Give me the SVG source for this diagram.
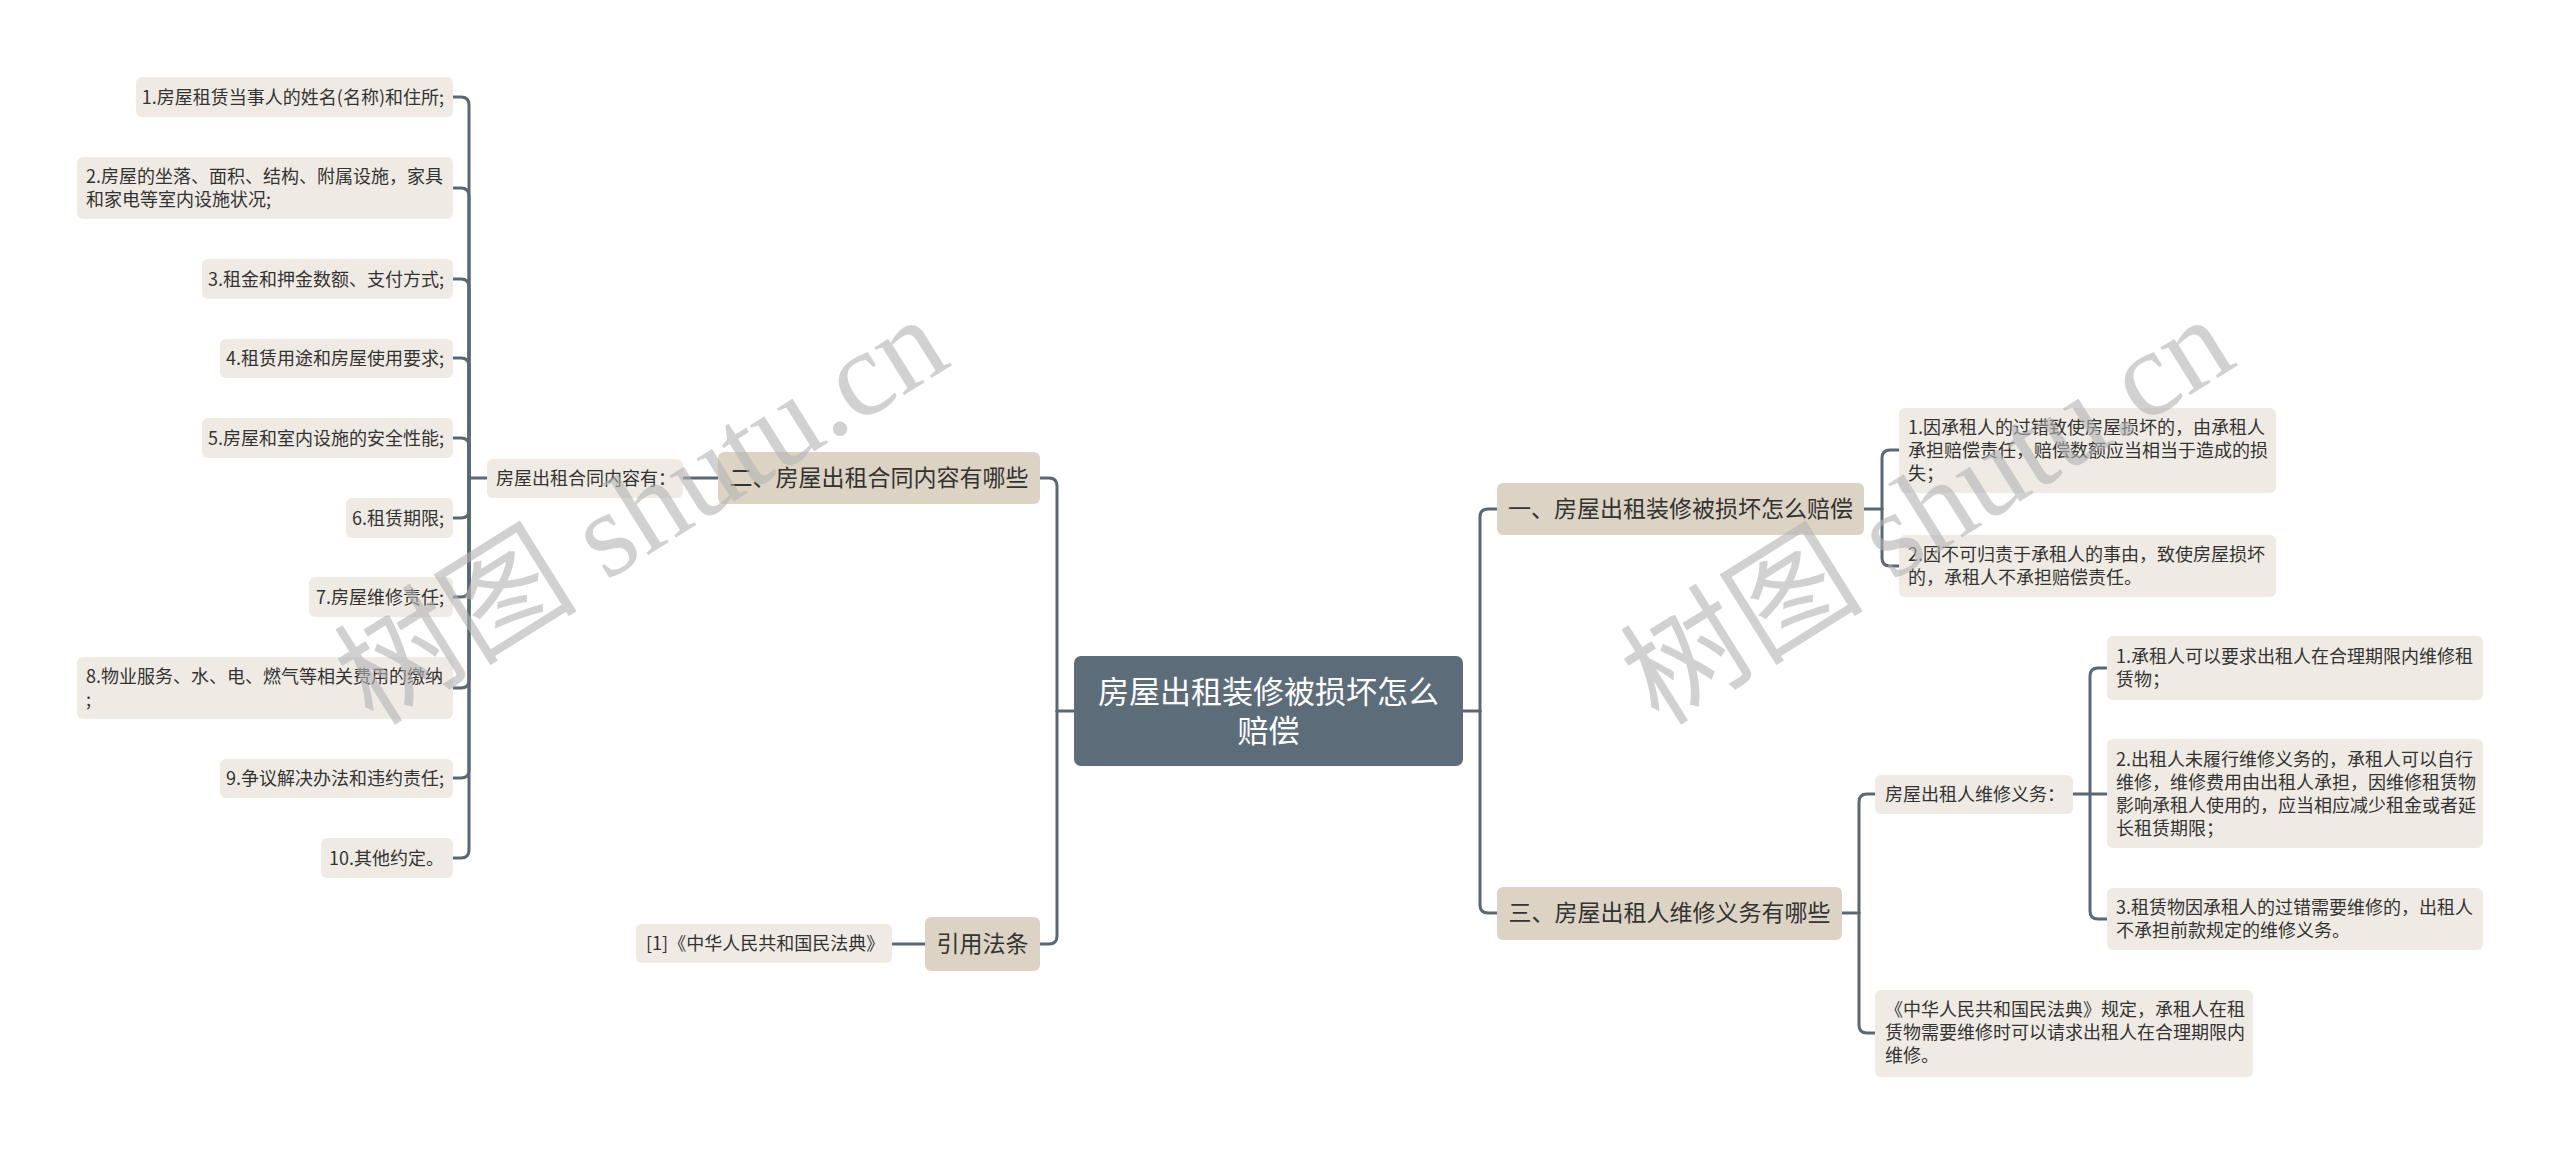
<svg xmlns="http://www.w3.org/2000/svg" width="2560" height="1154" viewBox="0 0 2560 1154">
<style>
.leaf{fill:#efebe4}
.l1{fill:#ddd3c4}
.root{fill:#5c6c79}
.t{font-family:"Noto Sans CJK SC","Noto Sans",sans-serif;font-size:18px;fill:#333333}
.t1{font-family:"Noto Sans CJK SC","Noto Sans",sans-serif;font-size:23px;fill:#333333}
.tr{font-family:"Noto Sans CJK SC","Noto Sans",sans-serif;font-size:31px;fill:#ffffff}
.e{text-anchor:end}
.m{text-anchor:middle}
.c{fill:none;stroke:#5a6874;stroke-width:3;stroke-linecap:round}
.wm{font-family:"Liberation Serif","Noto Sans CJK SC",serif;font-size:122px;fill:#b4b4b4;opacity:0.6}
</style>
<rect width="2560" height="1154" fill="#ffffff"/>
<g id="connectors">
<!-- root left -->
<path class="c" d="M1074 711 H1057"/>
<path class="c" d="M1057 711 V486 Q1057 478 1049 478 H1040"/>
<path class="c" d="M1057 711 V936 Q1057 944 1049 944 H1040"/>
<!-- root right -->
<path class="c" d="M1463 711 H1480"/>
<path class="c" d="M1480 711 V517 Q1480 509 1488 509 H1497"/>
<path class="c" d="M1480 711 V905 Q1480 913 1488 913 H1497"/>
<!-- er -> contract content -->
<path class="c" d="M718 478 H683"/>
<!-- contract content -> leaves -->
<path class="c" d="M487 478 H469"/>
<path class="c" d="M469 478 V105 Q469 97 461 97 H453"/>
<path class="c" d="M469 478 V196 Q469 188 461 188 H453"/>
<path class="c" d="M469 478 V287 Q469 279 461 279 H453"/>
<path class="c" d="M469 478 V366 Q469 358 461 358 H453"/>
<path class="c" d="M469 478 V446 Q469 438 461 438 H453"/>
<path class="c" d="M469 478 V510 Q469 518 461 518 H453"/>
<path class="c" d="M469 478 V589 Q469 597 461 597 H453"/>
<path class="c" d="M469 478 V680 Q469 688 461 688 H453"/>
<path class="c" d="M469 478 V770 Q469 778 461 778 H453"/>
<path class="c" d="M469 478 V850 Q469 858 461 858 H453"/>
<!-- yinyong -->
<path class="c" d="M925 944 H892"/>
<!-- yi -> leaves -->
<path class="c" d="M1864 509 H1882"/>
<path class="c" d="M1882 509 V458 Q1882 450 1890 450 H1899"/>
<path class="c" d="M1882 509 V558 Q1882 566 1890 566 H1899"/>
<!-- san -> children -->
<path class="c" d="M1842 913 H1859"/>
<path class="c" d="M1859 913 V802 Q1859 794 1867 794 H1875"/>
<path class="c" d="M1859 913 V1025 Q1859 1033 1867 1033 H1875"/>
<!-- weixiu -> leaves -->
<path class="c" d="M2073 794 H2107"/>
<path class="c" d="M2090 794 V676 Q2090 668 2098 668 H2107"/>
<path class="c" d="M2090 794 V911 Q2090 919 2098 919 H2107"/>
</g>

<g id="root">
<rect class="root" x="1074" y="656" width="389" height="110" rx="7"/>
<text class="tr m" x="1268.5" y="703">房屋出租装修被损坏怎么</text>
<text class="tr m" x="1268.5" y="742">赔偿</text>
</g>

<g id="n-er">
<rect class="l1" x="718" y="452" width="322" height="52" rx="6"/>
<text class="t1 m" x="879" y="486">二、房屋出租合同内容有哪些</text>
</g>
<g id="n-hetong">
<rect class="leaf" x="487" y="459" width="196" height="39" rx="6"/>
<text class="t" x="496" y="485">房屋出租合同内容有：</text>
</g>
<g id="n-l1">
<rect class="leaf" x="136" y="77" width="317" height="40" rx="6"/>
<text class="t e" x="444" y="103.5">1.房屋租赁当事人的姓名(名称)和住所;</text>
</g>
<g id="n-l2">
<rect class="leaf" x="77" y="157" width="376" height="62" rx="6"/>
<text class="t" x="86" y="183">2.房屋的坐落、面积、结构、附属设施，家具</text>
<text class="t" x="86" y="206">和家电等室内设施状况;</text>
</g>
<g id="n-l3">
<rect class="leaf" x="202" y="259" width="251" height="40" rx="6"/>
<text class="t e" x="444" y="285.5">3.租金和押金数额、支付方式;</text>
</g>
<g id="n-l4">
<rect class="leaf" x="220" y="339" width="233" height="39" rx="6"/>
<text class="t e" x="444" y="365">4.租赁用途和房屋使用要求;</text>
</g>
<g id="n-l5">
<rect class="leaf" x="202" y="418" width="251" height="40" rx="6"/>
<text class="t e" x="444" y="444.5">5.房屋和室内设施的安全性能;</text>
</g>
<g id="n-l6">
<rect class="leaf" x="346" y="498" width="107" height="40" rx="6"/>
<text class="t e" x="444" y="524.5">6.租赁期限;</text>
</g>
<g id="n-l7">
<rect class="leaf" x="309" y="577" width="144" height="40" rx="6"/>
<text class="t e" x="444" y="603.5">7.房屋维修责任;</text>
</g>
<g id="n-l8">
<rect class="leaf" x="77" y="657" width="376" height="62" rx="6"/>
<text class="t" x="86" y="683">8.物业服务、水、电、燃气等相关费用的缴纳</text>
<text class="t" x="86" y="706">;</text>
</g>
<g id="n-l9">
<rect class="leaf" x="220" y="759" width="233" height="39" rx="6"/>
<text class="t e" x="444" y="785">9.争议解决办法和违约责任;</text>
</g>
<g id="n-l10">
<rect class="leaf" x="321" y="838" width="132" height="40" rx="6"/>
<text class="t e" x="444" y="864.5">10.其他约定。</text>
</g>

<g id="n-yinyong">
<rect class="l1" x="925" y="917" width="115" height="54" rx="6"/>
<text class="t1 m" x="982.5" y="952">引用法条</text>
</g>
<g id="n-fadian">
<rect class="leaf" x="636" y="924" width="256" height="39" rx="6"/>
<text class="t" x="646" y="950">[1]《中华人民共和国民法典》</text>
</g>

<g id="n-yi">
<rect class="l1" x="1497" y="483" width="367" height="52" rx="6"/>
<text class="t1 m" x="1680.5" y="517">一、房屋出租装修被损坏怎么赔偿</text>
</g>
<g id="n-r1">
<rect class="leaf" x="1899" y="408" width="377" height="85" rx="6"/>
<text class="t" x="1908" y="433.5">1.因承租人的过错致使房屋损坏的，由承租人</text>
<text class="t" x="1908" y="456.5">承担赔偿责任，赔偿数额应当相当于造成的损</text>
<text class="t" x="1908" y="479.5">失；</text>
</g>
<g id="n-r2">
<rect class="leaf" x="1899" y="535" width="377" height="62" rx="6"/>
<text class="t" x="1908" y="561">2.因不可归责于承租人的事由，致使房屋损坏</text>
<text class="t" x="1908" y="584">的，承租人不承担赔偿责任。</text>
</g>

<g id="n-san">
<rect class="l1" x="1497" y="887" width="345" height="53" rx="6"/>
<text class="t1 m" x="1669.5" y="921">三、房屋出租人维修义务有哪些</text>
</g>
<g id="n-weixiu">
<rect class="leaf" x="1875" y="775" width="198" height="39" rx="6"/>
<text class="t" x="1885" y="801">房屋出租人维修义务：</text>
</g>
<g id="n-w1">
<rect class="leaf" x="2107" y="636" width="376" height="64" rx="6"/>
<text class="t" x="2116" y="663">1.承租人可以要求出租人在合理期限内维修租</text>
<text class="t" x="2116" y="686">赁物；</text>
</g>
<g id="n-w2">
<rect class="leaf" x="2107" y="739" width="376" height="109" rx="6"/>
<text class="t" x="2116" y="766">2.出租人未履行维修义务的，承租人可以自行</text>
<text class="t" x="2116" y="789">维修，维修费用由出租人承担，因维修租赁物</text>
<text class="t" x="2116" y="812">影响承租人使用的，应当相应减少租金或者延</text>
<text class="t" x="2116" y="835">长租赁期限；</text>
</g>
<g id="n-w3">
<rect class="leaf" x="2107" y="888" width="376" height="62" rx="6"/>
<text class="t" x="2116" y="914">3.租赁物因承租人的过错需要维修的，出租人</text>
<text class="t" x="2116" y="937">不承担前款规定的维修义务。</text>
</g>
<g id="n-minfadian">
<rect class="leaf" x="1875" y="990" width="378" height="87" rx="6"/>
<text class="t" x="1885" y="1016">《中华人民共和国民法典》规定，承租人在租</text>
<text class="t" x="1885" y="1039">赁物需要维修时可以请求出租人在合理期限内</text>
<text class="t" x="1885" y="1062">维修。</text>
</g>

<g id="watermark">
<text class="wm m" x="641" y="552" transform="rotate(-32 641 510)">树图 shutu.cn</text>
<text class="wm m" x="1927" y="552" transform="rotate(-32 1927 510)">树图 shutu.cn</text>
</g>
</svg>
